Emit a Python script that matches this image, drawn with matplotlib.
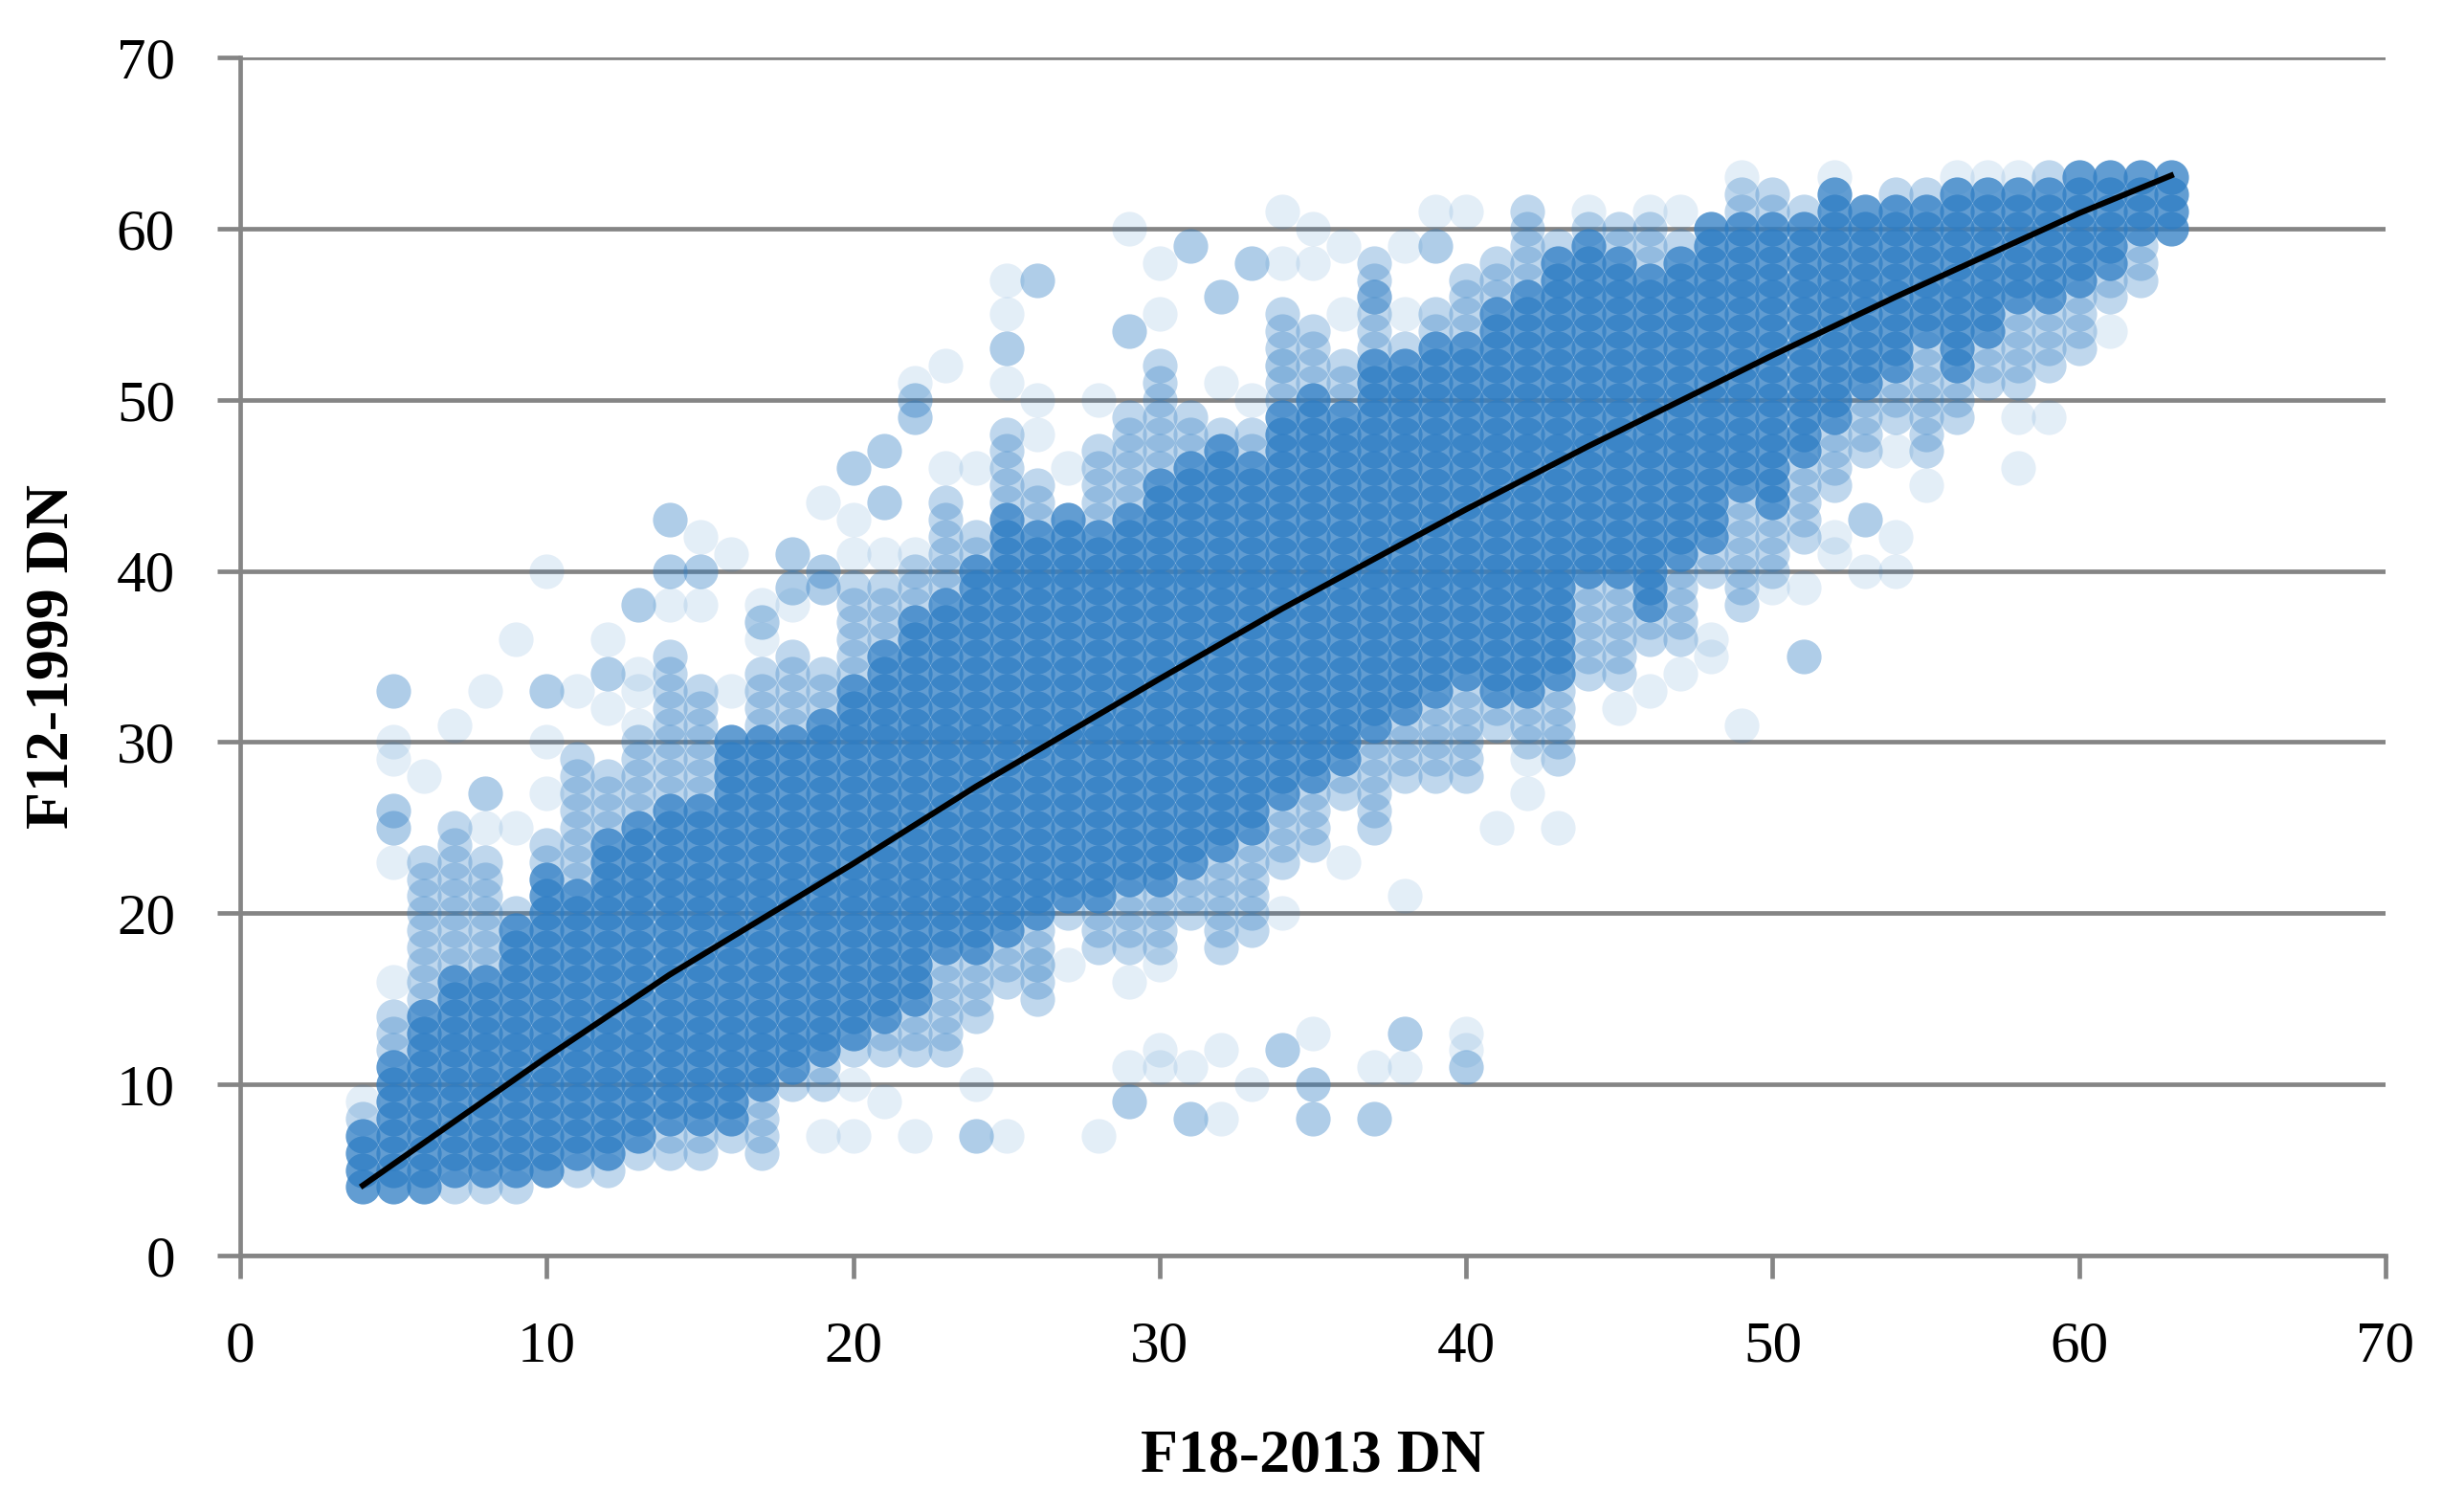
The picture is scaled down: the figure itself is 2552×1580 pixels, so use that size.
import matplotlib
matplotlib.use('Agg')
import matplotlib.pyplot as plt

# F18-2013 DN columns (x) and the F12-1999 DN spread
cols = list(range(4, 64))

# dense (saturated) part of each column
core_lo = [4, 4, 4, 5, 5, 5, 5, 6, 6, 7, 8, 8, 8, 10, 11, 12, 13, 14, 15, 18,
           18, 19, 20, 21, 21, 22, 22, 23, 24, 25, 27, 28, 29, 31, 32, 33, 34, 33, 33, 34,
           40, 40, 38, 41, 42, 45, 44, 47, 49, 51, 52, 54, 52, 54, 56, 56, 57, 58, 60, 60]
core_hi = [7, 11, 14, 16, 16, 19, 22, 21, 24, 25, 26, 26, 30, 30, 30, 31, 33, 35, 37, 38,
           40, 43, 42, 43, 42, 43, 45, 46, 47, 46, 49, 50, 49, 52, 52, 53, 53, 55, 56, 58,
           59, 58, 57, 58, 60, 60, 60, 60, 62, 61, 61, 61, 62, 62, 62, 62, 63, 63, 63, 63]

# half-transparent spread around the dense part
mid_lo = [4, 4, 4, 4, 4, 4, 5, 5, 5, 6, 6, 6, 7, 6, 10, 10, 12, 12, 12, 12,
          14, 16, 15, 20, 18, 18, 18, 20, 18, 19, 23, 24, 27, 25, 28, 28, 28, 31, 30, 29,
          34, 34, 36, 36, 40, 38, 40, 42, 45, 47, 49, 47, 49, 51, 51, 52, 53, 56, 57, 60]
mid_hi = [8, 14, 23, 25, 23, 20, 24, 29, 28, 30, 35, 33, 30, 34, 35, 34, 39, 39, 40, 44,
          42, 48, 45, 43, 47, 49, 52, 49, 48, 48, 55, 54, 52, 58, 53, 55, 57, 58, 61, 59,
          60, 60, 60, 59, 60, 62, 62, 61, 62, 61, 62, 62, 62, 62, 62, 63, 63, 63, 63, 63]

# isolated faint points
light_x = [4, 5, 5, 5, 5, 6, 7, 8, 8, 9, 9, 10, 10, 10, 11, 12, 12, 13, 13, 13,
           14, 15, 15, 16, 16, 17, 17, 18, 19, 19, 20, 20, 20, 20, 21, 21, 22, 22, 22,
           23, 23, 24, 24, 25, 25, 25, 25, 26, 26, 26, 27, 27, 28, 28, 29, 29, 29,
           30, 30, 30, 30, 30, 31, 32, 32, 32, 33, 33, 34, 34, 34, 34, 35, 35, 35,
           36, 36, 36, 37, 38, 38, 38, 38, 39, 40, 40, 40, 41, 42, 42, 43, 44, 45,
           46, 46, 47, 47, 48, 48, 49, 49, 50, 51, 52, 52, 52, 53, 54, 54, 54, 55,
           56, 57, 58, 58, 58, 59, 61]
light_y = [9, 16, 23, 29, 30, 28, 31, 25, 33, 25, 36, 27, 30, 40, 33, 32, 36, 31, 33, 34,
           38, 38, 42, 33, 41, 36, 38, 38, 7, 44, 7, 10, 41, 43, 9, 41, 7, 41, 51,
           46, 52, 10, 46, 7, 51, 55, 57, 17, 48, 50, 17, 46, 7, 50, 11, 16, 60,
           11, 12, 17, 55, 58, 11, 8, 12, 51, 10, 50, 20, 52, 58, 61, 13, 58, 60,
           23, 55, 59, 11, 11, 21, 55, 59, 61, 12, 13, 61, 25, 27, 29, 25, 61, 32,
           33, 61, 34, 61, 35, 36, 31, 63, 39, 39, 41, 42, 63, 40, 40, 42, 47, 45,
           63, 63, 46, 49, 63, 49, 54]

# isolated medium points
med_x = [5, 5, 5, 8, 10, 12, 13, 14, 14, 15, 17, 18, 18, 19, 19, 20, 21, 21, 22, 22,
         24, 25, 26, 29, 29, 31, 31, 32, 33, 34, 35, 35, 37, 37, 38, 39, 40, 51, 53]
med_y = [25, 26, 33, 27, 33, 34, 38, 40, 43, 40, 37, 39, 41, 39, 40, 46, 44, 47, 49, 50,
         7, 53, 57, 9, 54, 8, 59, 56, 58, 12, 8, 10, 8, 56, 13, 59, 11, 35, 43]

# trend line
fit_x = [4, 10, 14, 20, 24, 30, 34, 40, 44, 50, 54, 60, 63]
fit_y = [4.1, 11.6, 16.4, 22.9, 27.4, 33.7, 37.8, 43.6, 47.3, 52.6, 56.0, 60.9, 63.1]

blue = '#2E7DC4'
grey = '#858585'

core_x, core_y, mid_x, mid_y = [], [], [], []
for x, clo, chi, mlo, mhi in zip(cols, core_lo, core_hi, mid_lo, mid_hi):
    for y in range(mlo, mhi + 1):
        if clo <= y <= chi:
            continue
        mid_x.append(x)
        mid_y.append(y)
    for y in range(clo, chi + 1):
        core_x.append(x)
        core_y.append(y)

plt.rcParams['font.family'] = ['Liberation Serif', 'DejaVu Serif']

fig = plt.figure(figsize=(12.76, 7.9), dpi=200)
ax = fig.add_axes([0.0984, 0.1696, 0.8785, 0.7924])

s = 170
ax.scatter(light_x, light_y, s=s, color=blue, alpha=0.13, linewidths=0, zorder=2)
ax.scatter(med_x, med_y, s=s, color=blue, alpha=0.38, linewidths=0, zorder=2)
ax.scatter(mid_x, mid_y, s=s, color=blue, alpha=0.3, linewidths=0, zorder=2)
ax.scatter(core_x, core_y, s=s, color=blue, alpha=0.75, linewidths=0, zorder=2)
ax.plot(fit_x, fit_y, color='black', lw=2.2, zorder=3)

ax.set_xlim(0, 70)
ax.set_ylim(0, 70)
ax.set_xticks(range(0, 71, 10))
ax.set_yticks(range(0, 71, 10))
ax.yaxis.grid(True, color=grey, linewidth=1.7)
ax.set_axisbelow(True)
for side in ['top', 'right']:
    ax.spines[side].set_visible(False)
for side in ['left', 'bottom']:
    ax.spines[side].set_color(grey)
    ax.spines[side].set_linewidth(1.7)
ax.tick_params(axis='both', direction='out', length=8.5, width=1.7, color=grey,
               pad=16, labelsize=22, labelcolor='black')

fig.text(0.5376, 0.027, 'F18-2013 DN', ha='center', va='baseline',
         fontsize=23, fontweight='bold')
fig.text(0.0216, 0.566, 'F12-1999 DN', rotation=90, ha='center', va='center',
         fontsize=23, fontweight='bold')

fig.savefig('out.png', dpi=200)
